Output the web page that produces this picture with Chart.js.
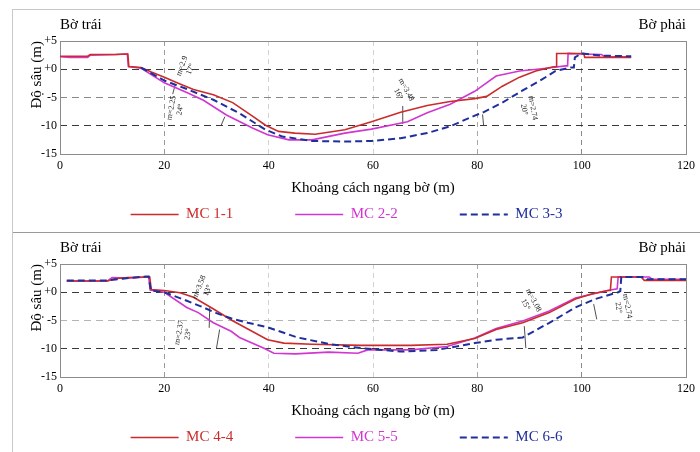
<!DOCTYPE html>
<html lang="vi">
<head>
<meta charset="utf-8">
<script src="https://cdn.jsdelivr.net/npm/chart.js@4.4.1/dist/chart.umd.min.js"></script>
<style>
  html, body { margin: 0; padding: 0; background: #fff; width: 700px; height: 452px; overflow: hidden; }
  #wrap { position: absolute; left: 12px; top: 9px; width: 688px; border-left: 1px solid #c8c8c8; border-top: 1px solid #c8c8c8; }
  .panel { position: relative; width: 687px; height: 222px; overflow: hidden; }
  .panel + .panel { border-top: 1px solid #9a9a9a; }
  canvas { display: block; }
</style>
</head>
<body>
<div id="wrap">
  <div class="panel"><canvas id="chartTop" width="687" height="222"></canvas></div>
  <div class="panel"><canvas id="chartBottom" width="687" height="222"></canvas></div>
</div>
<script>
const FONT = "'Liberation Serif', 'Times New Roman', serif";

// --- Trục --- //
const yTickValues = [5, 0, -5, -10, -15];
const yTickLabels = ['+5', '+0', '-5', '-10', '-15'];

// --- Mặt cắt trên (MC 1-1, 2-2, 3-3) --- //
const mc11X = [0, 5.3, 5.8, 10.7, 12.6, 13.0, 13.2, 15.5, 17.5, 20, 23, 25.6, 29.4, 33.1, 36.9, 39.4, 41.9, 45, 48.9, 54.6, 59.7, 65.3, 70.4, 74.8, 79.5, 81.8, 84.8, 88.1, 91.2, 94.4, 95.1, 95.2, 100.4, 100.6, 109.5];
const mc11Y = [2.3, 2.3, 2.6, 2.6, 2.7, 2.7, 0.5, 0.3, -0.5, -1.4, -2.6, -3.6, -4.5, -5.9, -8.3, -9.9, -11.0, -11.3, -11.5, -10.7, -9.3, -7.6, -6.4, -5.7, -5.2, -4.8, -3.0, -1.4, -0.3, 0.4, 0.5, 2.8, 2.8, 2.1, 2.1];

const mc22X = [0, 2, 5.3, 5.8, 10.7, 12.9, 13.1, 15.5, 20, 24.3, 27.5, 31.9, 36.9, 39.8, 43.9, 48.3, 54.6, 59.7, 66.6, 70.4, 74.8, 79.5, 83.6, 88.1, 92.4, 96.9, 97.3, 97.4, 100, 103.8, 104.5, 109];
const mc22Y = [2.2, 2.1, 2.1, 2.5, 2.6, 2.7, 0.5, 0.2, -2.4, -4.1, -5.5, -8.1, -10.4, -11.6, -12.5, -12.5, -11.3, -10.6, -9.3, -7.7, -6.2, -3.9, -1.2, -0.3, 0.1, 0.6, 0.6, 2.8, 2.7, 2.6, 2.2, 2.2];

const mc33X = [15.5, 16.1, 20, 24.3, 29.4, 34.4, 39.4, 42.6, 48.3, 54.6, 59.7, 65.3, 70.4, 74.8, 79.5, 81, 84.8, 88.6, 92.4, 95, 97.9, 98.5, 98.7, 100, 101, 104, 109.5];
const mc33Y = [0.3, 0, -2.0, -3.5, -5.4, -7.8, -10.7, -11.9, -12.7, -12.8, -12.7, -12.2, -11.3, -10.1, -8.2, -7.7, -5.9, -3.8, -1.8, -0.3, 0.3, 0.3, 2.1, 2.8, 2.7, 2.4, 2.3];

// --- Mặt cắt dưới (MC 4-4, 5-5, 6-6) --- //
const mc44X = [1.3, 9.1, 10.5, 12.9, 16.7, 17.2, 17.5, 20, 23, 25.6, 29.5, 33, 36.8, 39.8, 42.9, 48.3, 57.8, 67.2, 74.2, 79.5, 83.6, 88.7, 93.8, 98.8, 101.9, 105, 105.5, 105.7, 111.4, 112, 120];
const mc44Y = [2.0, 2.0, 2.4, 2.6, 2.7, 2.7, 0.5, 0.3, -0.1, -0.9, -3.0, -5.0, -6.9, -8.4, -9.0, -9.2, -9.4, -9.4, -9.2, -8.2, -6.6, -5.4, -3.6, -1.2, -0.3, 0.3, 0.3, 2.7, 2.7, 2.1, 2.1];

const mc55X = [1.3, 9.1, 10, 12.9, 16.7, 17.0, 17.3, 20, 24.3, 26.5, 29.4, 32.8, 34.4, 39.1, 41, 45.1, 51.5, 57.1, 59, 67.2, 74.2, 79.5, 83.6, 88.7, 93.8, 98.8, 105, 106.8, 107, 113, 113.5, 120];
const mc55Y = [2.0, 2.0, 2.6, 2.5, 2.7, 2.7, 0.4, 0, -2.7, -3.6, -5.4, -6.9, -8.0, -9.9, -10.8, -10.9, -10.6, -10.8, -10.2, -10.2, -9.6, -8.1, -6.4, -5.1, -3.3, -1.0, 0.3, 0.6, 2.7, 2.7, 2.3, 2.3];

const mc66X = [1.3, 9.1, 12, 16.5, 17.0, 17.4, 20, 24.3, 27, 30, 33, 36, 39.8, 45.5, 51.8, 57.8, 65.3, 72.3, 79.5, 83.6, 88.7, 93.8, 98.8, 102.6, 107, 107.4, 107.6, 112, 112.5, 120];
const mc66Y = [2.1, 2.1, 2.4, 2.8, 2.8, 0.3, 0, -1.5, -2.5, -3.7, -4.7, -5.4, -6.2, -8.0, -9.2, -9.9, -10.5, -10.2, -9.0, -8.4, -8.0, -5.4, -2.7, -1.2, 0, 0.2, 2.7, 2.7, 2.3, 2.3];

// --- Ghi chú mái dốc: [x, y, góc, dòng 1, dòng 2] và đường dẫn [x1, y1, x2, y2] --- //
const notesTop = [
  [22.2, -7.0, -80, 'm=2.25', '24°'],
  [24.2, 0.3, -70, 'm=2.9', '17°'],
  [65.6, -4.0, 62, 'm=3.48', '16°'],
  [89.8, -7.0, 80, 'm=2.74', '20°']
];
const leadersTop = [
  [22.1, -2.7, 21.6, -4.4],
  [31.6, -8.4, 30.9, -9.9],
  [65.7, -6.5, 65.7, -9.7],
  [81.0, -8.0, 81.2, -9.9]
];
const notesBottom = [
  [23.7, -7.3, -80, 'm=2.37', '23°'],
  [27.5, 0.6, -68, 'm=3.58', '13°'],
  [90.0, -1.8, 62, 'm=3.08', '15°'],
  [107.9, -2.6, 80, 'm=2.74', '22°']
];
const leadersBottom = [
  [30.6, -6.6, 30.0, -9.9],
  [28.7, -2.7, 28.6, -6.3],
  [89.0, -6.0, 89.3, -9.9],
  [102.3, -2.1, 102.9, -4.8]
];

const RED = '#cc2b2b';
const MAGENTA = '#d136d1';
const BLUE = '#1f2f9c';

// khung, nhãn bờ, ghi chú
const panelDecor = {
  id: 'panelDecor',
  beforeDatasetsDraw(chart, args, opts) {
    const { ctx, chartArea: a, scales: { x, y } } = chart;
    ctx.save();
    ctx.strokeStyle = '#8c8c8c';
    ctx.lineWidth = 1;
    ctx.strokeRect(a.left + 0.5, a.top + 0.5, a.width, a.height);
    ctx.strokeStyle = '#222';
    ctx.lineWidth = 0.8;
    opts.leaders.forEach(([x1, y1, x2, y2]) => {
      ctx.beginPath();
      ctx.moveTo(x.getPixelForValue(x1), y.getPixelForValue(y1));
      ctx.lineTo(x.getPixelForValue(x2), y.getPixelForValue(y2));
      ctx.stroke();
    });
    ctx.restore();
  },
  afterDatasetsDraw(chart, args, opts) {
    const { ctx, chartArea: a, scales: { x, y } } = chart;
    ctx.save();
    ctx.fillStyle = '#222';
    ctx.font = '8px ' + FONT;
    ctx.textAlign = 'center';
    ctx.textBaseline = 'middle';
    opts.notes.forEach(([nx, ny, deg, l1, l2]) => {
      ctx.save();
      ctx.translate(x.getPixelForValue(nx), y.getPixelForValue(ny));
      ctx.rotate(deg * Math.PI / 180);
      ctx.fillText(l1, 0, -4.5);
      ctx.fillText(l2, 0, 4.5);
      ctx.restore();
    });
    ctx.fillStyle = '#000';
    ctx.font = '15px ' + FONT;
    ctx.textAlign = 'left';
    ctx.fillText('Bờ trái', a.left, a.top - 16);
    ctx.textAlign = 'right';
    ctx.fillText('Bờ phải', a.right, a.top - 16);
    ctx.restore();
  }
};

function xGridColor(v) {
  if (v === 20) return '#9a9a9a';
  if (v === 80) return '#a8a8a8';
  if (v === 100) return '#8a8a8a';
  if (v === 40 || v === 60) return '#d2d2d2';
  return 'rgba(0,0,0,0)';
}

function makeChart(canvasId, series, notes, leaders, midGrid) {
  return new Chart(document.getElementById(canvasId), {
    type: 'line',
    data: {
      datasets: series.map(s => ({
        label: s.label,
        data: s.xs.map((v, i) => ({ x: v, y: s.ys[i] })),
        borderColor: s.color,
        backgroundColor: s.color,
        borderWidth: s.width,
        borderDash: s.dash,
        pointRadius: 0,
        tension: 0,
        order: s.order
      }))
    },
    options: {
      responsive: false,
      animation: false,
      layout: { padding: { left: -12, right: 8, top: 31, bottom: 0 } },
      plugins: {
        tooltip: { enabled: false },
        legend: {
          position: 'bottom',
          title: { display: true, text: '', font: { size: 1 }, padding: { top: -58.7, bottom: 0 } },
          labels: {
            usePointStyle: true,
            pointStyle: 'line',
            pointStyleWidth: 48,
            padding: 62,
            font: { family: FONT, size: 15 },
            sort: (a, b) => a.datasetIndex - b.datasetIndex,
            generateLabels(chart) {
              return Chart.defaults.plugins.legend.labels.generateLabels(chart).map(item => {
                const ds = chart.data.datasets[item.datasetIndex];
                return { ...item, fontColor: ds.borderColor, strokeStyle: ds.borderColor, lineDash: ds.borderDash, lineWidth: ds.borderWidth };
              });
            }
          }
        },
        panelDecor: { notes, leaders }
      },
      scales: {
        x: {
          type: 'linear',
          min: 0,
          max: 120,
          ticks: { stepSize: 20, padding: 5, color: '#000', font: { family: FONT, size: 12 } },
          grid: { drawTicks: false, color: ctx => xGridColor(ctx.tick && ctx.tick.value) },
          border: { display: false, dash: [5, 4] },
          title: { display: true, text: 'Khoảng cách ngang bờ (m)', color: '#000', font: { family: FONT, size: 15 }, padding: { top: 0, bottom: 5.5 } },
          afterFit: s => { s.height = 48.5; }
        },
        y: {
          min: -15,
          max: 5,
          ticks: {
            stepSize: 5,
            padding: 3,
            color: '#000',
            font: { family: FONT, size: 12 },
            callback: v => yTickLabels[yTickValues.indexOf(v)]
          },
          grid: {
            drawTicks: false,
            color: ctx => {
              const v = ctx.tick && ctx.tick.value;
              if (v === 0 || v === -10) return '#3a3a3a';
              if (v === -5) return midGrid;
              return 'rgba(0,0,0,0)';
            }
          },
          border: { display: false, dash: [7, 5] },
          title: { display: true, align: 'end', text: 'Độ sâu (m)', color: '#000', font: { family: FONT, size: 15 }, padding: { top: 27, bottom: 0 } },
          afterFit: s => { s.width = 59; }
        }
      }
    },
    plugins: [panelDecor]
  });
}

makeChart('chartTop', [
  { label: 'MC 1-1', xs: mc11X, ys: mc11Y, color: RED, width: 1.6, dash: [], order: 1 },
  { label: 'MC 2-2', xs: mc22X, ys: mc22Y, color: MAGENTA, width: 1.6, dash: [], order: 2 },
  { label: 'MC 3-3', xs: mc33X, ys: mc33Y, color: BLUE, width: 2, dash: [7, 4], order: 0 }
], notesTop, leadersTop, '#8a8a8a');

makeChart('chartBottom', [
  { label: 'MC 4-4', xs: mc44X, ys: mc44Y, color: RED, width: 1.6, dash: [], order: 1 },
  { label: 'MC 5-5', xs: mc55X, ys: mc55Y, color: MAGENTA, width: 1.6, dash: [], order: 2 },
  { label: 'MC 6-6', xs: mc66X, ys: mc66Y, color: BLUE, width: 2, dash: [7, 4], order: 0 }
], notesBottom, leadersBottom, '#b4b4b4');
</script>
</body>
</html>
